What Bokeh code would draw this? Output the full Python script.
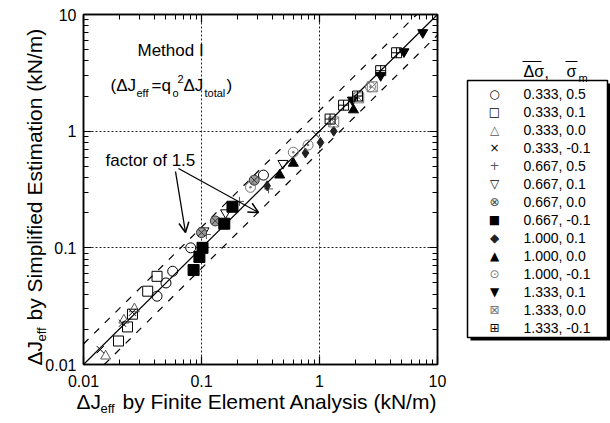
import math
from bokeh.plotting import figure
from bokeh.models import (LogAxis, FixedTicker, CustomJSTickFormatter, Arrow,
                          OpenHead, Range1d)
from bokeh.core.properties import value
from bokeh.embed import file_html
from bokeh.resources import INLINE

FONT = "Liberation Sans"

# ---------------- data ----------------
major_ticks = [0.01, 0.1, 1, 10]
minor_ticks = [0.02, 0.03, 0.04, 0.05, 0.06, 0.07, 0.08, 0.09,
               0.2, 0.3, 0.4, 0.5, 0.6, 0.7, 0.8, 0.9,
               2, 3, 4, 5, 6, 7, 8, 9]
grid_ticks = [0.1, 1]

factor = 1.5
line_ends = [0.01, 10]

labels = ["0.333, 0.5", "0.333, 0.1", "0.333, 0.0", "0.333, -0.1",
          "0.667, 0.5", "0.667, 0.1", "0.667, 0.0", "0.667, -0.1",
          "1.000, 0.1", "1.000, 0.0", "1.000, -0.1",
          "1.333, 0.1", "1.333, 0.0", "1.333, -0.1"]

x_s1 = [0.042, 0.050, 0.057, 0.081, 0.335]
y_s1 = [0.0385, 0.050, 0.063, 0.100, 0.42]
x_s2 = [0.0198, 0.0236, 0.026, 0.035, 0.042]
y_s2 = [0.0159, 0.021, 0.027, 0.0425, 0.057]
x_s3 = [0.0154, 0.022, 0.027]
y_s3 = [0.0118, 0.024, 0.030]
x_s4 = [0.0139, 0.0214, 0.026, 0.93]
y_s4 = [0.0134, 0.0226, 0.028, 0.94]
x_s5 = [0.11, 0.21, 0.37]
y_s5 = [0.13, 0.25, 0.32]
x_s6 = [0.105, 0.16, 0.49]
y_s6 = [0.14, 0.20, 0.53]
x_s7 = [0.10, 0.131, 0.28]
y_s7 = [0.135, 0.17, 0.38]
x_s8 = [0.0857, 0.096, 0.102, 0.156, 0.183]
y_s8 = [0.0645, 0.0835, 0.100, 0.161, 0.225]
x_s9 = [0.36, 0.76, 1.02, 1.32]
y_s9 = [0.34, 0.65, 0.80, 1.00]
x_s10 = [0.46, 0.60, 1.94]
y_s10 = [0.42, 0.53, 1.52]
x_s11 = [0.26, 0.60, 0.80, 2.7]
y_s11 = [0.33, 0.66, 0.76, 2.4]
x_s12 = [1.9, 3.3, 5.2, 7.5]
y_s12 = [1.85, 3.0, 4.8, 7.0]
x_s13 = [1.32, 2.15, 2.8]
y_s13 = [1.20, 1.93, 2.4]
x_s14 = [1.23, 1.60, 2.10, 3.30, 4.50]
y_s14 = [1.27, 1.67, 2.00, 3.30, 4.70]

# ---------------- layout ----------------
FL, FR, FT, FB = 83, 437, 14, 364   # frame edges in page pixels

p = figure(width=610, height=423, x_axis_type="log", y_axis_type="log",
           x_range=Range1d(0.01, 10), y_range=Range1d(0.01, 10),
           output_backend="svg", toolbar_location=None,
           min_border_left=FL, min_border_right=610 - FR,
           min_border_top=FT, min_border_bottom=423 - FB)
p.background_fill_color = "white"
p.border_fill_color = "white"
p.outline_line_color = "black"
p.outline_line_width = 1.5

fmt = CustomJSTickFormatter(code="""
const m = {0.01:'0.01', 0.1:'0.1', 1:'1', 10:'10'};
return (tick in m) ? m[tick] : tick.toString();
""")
blank = CustomJSTickFormatter(code="return '';")

bottom = p.xaxis[0]
left = p.yaxis[0]
top = LogAxis()
right = LogAxis()
p.add_layout(top, "above")
p.add_layout(right, "right")
for ax in [bottom, left, top, right]:
    ax.ticker = FixedTicker(ticks=major_ticks, minor_ticks=minor_ticks)
    ax.formatter = fmt
    ax.major_tick_in = 8
    ax.major_tick_out = 0
    ax.minor_tick_in = 5
    ax.minor_tick_out = 0
    ax.axis_line_width = 1.5
    ax.major_tick_line_width = 1.2
    ax.minor_tick_line_width = 1
    ax.major_label_text_font = FONT
    ax.major_label_text_font_size = "16px"
    ax.major_label_text_color = "black"
for ax in [top, right]:
    ax.formatter = blank
    ax.major_label_standoff = 0
bottom.major_label_standoff = 10
left.major_label_standoff = 7

for g in [p.xgrid[0], p.ygrid[0]]:
    g.ticker = FixedTicker(ticks=grid_ticks)
    g.grid_line_color = "#222222"
    g.grid_line_dash = "2 2"
    g.grid_line_width = 1

# reference lines
p.line(line_ends, line_ends, line_color="black", line_width=1.2)
p.line([line_ends[0], line_ends[1] / factor], [line_ends[0] * factor, line_ends[1]],
       line_color="black", line_width=1.2, line_dash="7 8")
p.line([line_ends[0] * factor, line_ends[1]], [line_ends[0], line_ends[1] / factor],
       line_color="black", line_width=1.2, line_dash="7 8")

# (x, y, marker, fill, line colour, size, legend symbol)
styles = [
    (x_s1, y_s1, "circle", None, "black", 10, "○"),
    (x_s2, y_s2, "square", None, "black", 10, "□"),
    (x_s3, y_s3, "triangle", None, "#555555", 10, "△"),
    (x_s4, y_s4, "x", None, "black", 10, "×"),
    (x_s5, y_s5, "cross", None, "#555555", 9, "+"),
    (x_s6, y_s6, "inverted_triangle", None, "black", 10, "▽"),
    (x_s7, y_s7, "circle_x", "#9a9a9a", "#333333", 10, "⊗"),
    (x_s8, y_s8, "square", "black", "black", 11, "■"),
    (x_s9, y_s9, "diamond", "#222222", "#222222", 10, "◆"),
    (x_s10, y_s10, "triangle", "black", "black", 10, "▲"),
    (x_s11, y_s11, "circle_dot", None, "#777777", 10, "⊙"),
    (x_s12, y_s12, "inverted_triangle", "black", "black", 10, "▼"),
    (x_s13, y_s13, "square_x", None, "#777777", 10, "⊠"),
    (x_s14, y_s14, "square_cross", None, "black", 10, "⊞"),
]
for xs, ys, mk, fc, lc, sz, sym in styles:
    p.scatter(xs, ys, marker=mk, size=sz, fill_color=fc, line_color=lc, line_width=1)

# pixel -> data helpers for annotation placement (outside the frame)
def dx(px):
    return 10 ** (-2 + 3 * (px - FL) / (FR - FL))

def dy(py):
    return 10 ** (1 - 3 * (py - FT) / (FB - FT))

def txt(px, py, text, size, align="left", baseline="middle", angle=0.0, color="black",
        font=FONT):
    p.text(x=[dx(px)], y=[dy(py)], text=[text], text_font=value(font),
           text_font_size=f"{size}px", text_align=align, text_baseline=baseline,
           angle=angle, text_color=color, level="overlay")

# legend (drawn as overlay glyphs to the right of the frame)
LG_L, LG_R, LG_T, LG_B = 467, 607, 80, 337
p.quad(left=[dx(LG_L + 3)], right=[dx(LG_R + 3)], top=[dy(LG_T + 3)], bottom=[dy(LG_B + 3)],
       fill_color="black", line_color=None, level="overlay")
p.quad(left=[dx(LG_L)], right=[dx(LG_R)], top=[dy(LG_T)], bottom=[dy(LG_B)],
       fill_color="white", line_color="black", line_width=1.5, level="overlay")
for i, (lab_text, st) in enumerate(zip(labels, styles)):
    row_y = LG_T + 13 + i * 18
    sym_color = st[4] if st[3] is None else st[3]
    if st[2] == "circle_x":
        sym_color = "#444444"
    txt(494, row_y, st[6], 12, align="center", color=sym_color, font="DejaVu Sans")
    txt(523, row_y, lab_text, 14)

# legend header
txt(523, 71, "Δσ", 16)
txt(544, 71, ",", 16)
txt(566, 71, "σ", 16)
txt(578, 77, "m", 11)
p.segment(x0=[dx(522), dx(565)], y0=[dy(61), dy(61)], x1=[dx(541), dx(577)],
          y1=[dy(61), dy(61)], line_color="black", line_width=1, level="overlay")

# method text
txt(137, 50, "Method  I", 17)
txt(110, 85, "(ΔJ", 17)
txt(136, 92, "eff", 11)
txt(151, 85, "=q", 17)
txt(172, 92, "o", 11)
txt(177, 78, "2", 11)
txt(183, 85, "ΔJ", 17)
txt(204, 92, "total", 11)
txt(226, 85, ")", 17)

# factor annotation
txt(105, 160, "factor of 1.5", 17)
p.add_layout(Arrow(x_start=dx(175), y_start=dy(171), x_end=dx(185), y_end=dy(232),
                   end=OpenHead(size=10, line_width=1.5), line_width=1.3))
p.add_layout(Arrow(x_start=dx(178), y_start=dy(168), x_end=dx(258), y_end=dy(212),
                   end=OpenHead(size=10, line_width=1.5), line_width=1.3))

# axis titles
txt(76, 401, "ΔJ", 21)
txt(100, 408, "eff", 13)
txt(122, 401, "by Finite Element Analysis (kN/m)", 21)
half = math.pi / 2
txt(34, 365, "ΔJ", 21, angle=half)
txt(41, 341, "eff", 13, angle=half)
txt(34, 320, "by Simplified Estimation (kN/m)", 21, angle=half)

open("out.html", "w").write(file_html(p, INLINE))
